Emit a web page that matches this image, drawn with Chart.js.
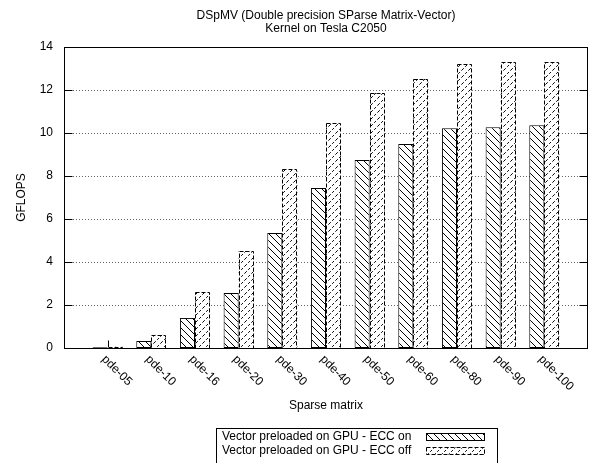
<!DOCTYPE html>
<html>
<head>
<meta charset="utf-8">
<script src="https://cdn.jsdelivr.net/npm/chart.js@4.4.1/dist/chart.umd.min.js"></script>
<style>
  html, body { margin: 0; padding: 0; background: #fff; }
</style>
</head>
<body>
<canvas id="grafico" width="602" height="463"></canvas>
<script>
const matrizes = ['pde-05', 'pde-10', 'pde-16', 'pde-20', 'pde-30', 'pde-40', 'pde-50', 'pde-60', 'pde-80', 'pde-90', 'pde-100'];
const eccLigado = [0.04, 0.33, 1.40, 2.56, 5.35, 7.44, 8.74, 9.49, 10.22, 10.27, 10.36];
const eccDesligado = [0.06, 0.61, 2.60, 4.51, 8.33, 10.47, 11.86, 12.51, 13.20, 13.29, 13.29];
const rotulos = ['Vector preloaded on GPU - ECC on', 'Vector preloaded on GPU - ECC off'];
const titulo = ['DSpMV (Double precision SParse Matrix-Vector)', 'Kernel on Tesla C2050'];
const tituloX = 'Sparse matrix';
const tituloY = 'GFLOPS';
const yMin = 0, yMax = 14, yPasso = 2;

const FONTE = '12px "Liberation Sans", Arial, sans-serif';

function hachura(tipo) {
    const s = 7;
    const t = document.createElement('canvas');
    t.width = s; t.height = s;
    const c = t.getContext('2d');
    c.fillStyle = '#fff';
    c.fillRect(0, 0, s, s);
    c.strokeStyle = '#000';
    c.lineWidth = 1;
    if (tipo === 'dashed') c.setLineDash([2.5, 2]);
    for (const d of [-s, 0, s]) {
        c.beginPath();
        if (tipo === 'dashed') {
            c.moveTo(d, s); c.lineTo(d + s, 0);
        } else {
            c.moveTo(d, 0); c.lineTo(d + s, s);
        }
        c.stroke();
    }
    return c.createPattern(t, 'repeat');
}

const padraoLigado = hachura('solid');
const padraoDesligado = hachura('dashed');

// grade pontilhada e marcas do eixo x, antes das barras
const grade = {
    id: 'grade',
    beforeDatasetsDraw(chart) {
        const { ctx, chartArea: a, scales: { x, y } } = chart;
        ctx.save();
        ctx.strokeStyle = '#666';
        ctx.lineWidth = 1;
        ctx.setLineDash([1, 2]);
        y.ticks.forEach(t => {
            if (t.value === yMin || t.value === yMax) return;
            const py = Math.round(y.getPixelForValue(t.value)) + 0.5;
            ctx.beginPath();
            ctx.moveTo(a.left, py);
            ctx.lineTo(a.right, py);
            ctx.stroke();
        });
        ctx.setLineDash([]);
        ctx.strokeStyle = '#000';
        const B = Math.round(a.bottom) + 0.5;
        matrizes.forEach((m, i) => {
            const px = Math.round(x.getPixelForValue(i)) + 0.5;
            ctx.beginPath();
            ctx.moveTo(px, B); ctx.lineTo(px, B - 8);
            ctx.stroke();
        });
        ctx.restore();
    }
};

// bordas tracejadas das barras "ECC off"
const bordaTracejada = {
    id: 'bordaTracejada',
    afterDatasetsDraw(chart) {
        const { ctx } = chart;
        const meta = chart.getDatasetMeta(1);
        ctx.save();
        ctx.strokeStyle = '#000';
        ctx.lineWidth = 1;
        ctx.setLineDash([4, 2]);
        meta.data.forEach(el => {
            const { x, y, width, base } = el.getProps(['x', 'y', 'width', 'base'], true);
            const l = Math.round(x - width / 2) + 0.5;
            const r = Math.round(x + width / 2) - 0.5;
            const t = Math.round(y) + 0.5;
            const b = Math.round(base) + 0.5;
            ctx.strokeRect(l, t, r - l, b - t);
        });
        ctx.restore();
    }
};

// moldura, marcas, rotulos, titulos e legenda no estilo gnuplot
const moldura = {
    id: 'moldura',
    afterDraw(chart) {
        const { ctx, chartArea: a, scales: { x, y } } = chart;
        ctx.save();
        ctx.strokeStyle = '#000';
        ctx.lineWidth = 1;
        const L = Math.round(a.left) + 0.5, R = Math.round(a.right) - 0.5;
        const T = Math.round(a.top) + 0.5, B = Math.round(a.bottom) + 0.5;
        ctx.strokeRect(L, T, R - L, B - T);

        // marcas internas do eixo y (com espelho)
        y.ticks.forEach(t => {
            const py = Math.round(y.getPixelForValue(t.value)) + 0.5;
            ctx.beginPath();
            ctx.moveTo(L, py); ctx.lineTo(L + 8, py);
            ctx.moveTo(R, py); ctx.lineTo(R - 8, py);
            ctx.stroke();
        });

        ctx.fillStyle = '#000';
        ctx.font = FONTE;

        // rotulos inclinados das categorias
        matrizes.forEach((m, i) => {
            const px = x.getPixelForValue(i);
            ctx.save();
            ctx.translate(px - 4, B + 9);
            ctx.rotate(Math.PI / 4);
            ctx.textAlign = 'left';
            ctx.textBaseline = 'middle';
            ctx.fillText(m, 0, 0);
            ctx.restore();
        });

        // titulos
        ctx.textAlign = 'center';
        ctx.textBaseline = 'middle';
        const cx = (a.left + a.right) / 2;
        ctx.fillText(titulo[0], cx, 16);
        ctx.fillText(titulo[1], cx, 29);
        ctx.fillText(tituloX, cx, 406);

        ctx.save();
        ctx.translate(22, (a.top + a.bottom) / 2);
        ctx.rotate(-Math.PI / 2);
        ctx.fillText(tituloY, 0, 0);
        ctx.restore();

        // legenda
        ctx.strokeRect(216.5, 428.5, 281, 40);
        ctx.textAlign = 'left';
        const linhas = [437, 451];
        rotulos.forEach((r, i) => {
            ctx.fillStyle = '#000';
            ctx.fillText(r, 222, linhas[i]);
            const sx = 426.5, sy = Math.round(linhas[i] - 4) + 0.5, sw = 58, sh = 7;
            ctx.fillStyle = i === 0 ? padraoLigado : padraoDesligado;
            ctx.fillRect(sx, sy, sw, sh);
            ctx.setLineDash(i === 0 ? [] : [4, 2]);
            ctx.strokeRect(sx, sy, sw, sh);
            ctx.setLineDash([]);
        });
        ctx.restore();
    }
};

const grafico = new Chart(document.getElementById('grafico'), {
    type: 'bar',
    data: {
        datasets: [{
            label: rotulos[0],
            data: eccLigado.map((v, i) => ({ x: i, y: v })),
            backgroundColor: padraoLigado,
            borderColor: '#000',
            borderWidth: 1,
            borderSkipped: false
        }, {
            label: rotulos[1],
            data: eccDesligado.map((v, i) => ({ x: i, y: v })),
            backgroundColor: padraoDesligado,
            borderWidth: 0
        }]
    },
    options: {
        responsive: false,
        animation: false,
        events: [],
        categoryPercentage: 0.69,
        barPercentage: 1.0,
        layout: { padding: { top: 47, right: 14, bottom: 115, left: 0 } },
        plugins: {
            legend: { display: false },
            title: { display: false },
            tooltip: { enabled: false }
        },
        scales: {
            x: {
                type: 'linear',
                min: -1,
                max: 11,
                offset: false,
                display: false
            },
            y: {
                min: yMin,
                max: yMax,
                afterFit: s => { s.width = 64; },
                grid: { display: false, drawTicks: false },
                border: { display: false },
                ticks: {
                    stepSize: yPasso,
                    padding: 11,
                    color: '#000',
                    font: { family: '"Liberation Sans", Arial, sans-serif', size: 12 }
                }
            }
        }
    },
    plugins: [grade, bordaTracejada, moldura]
});
</script>
</body>
</html>
